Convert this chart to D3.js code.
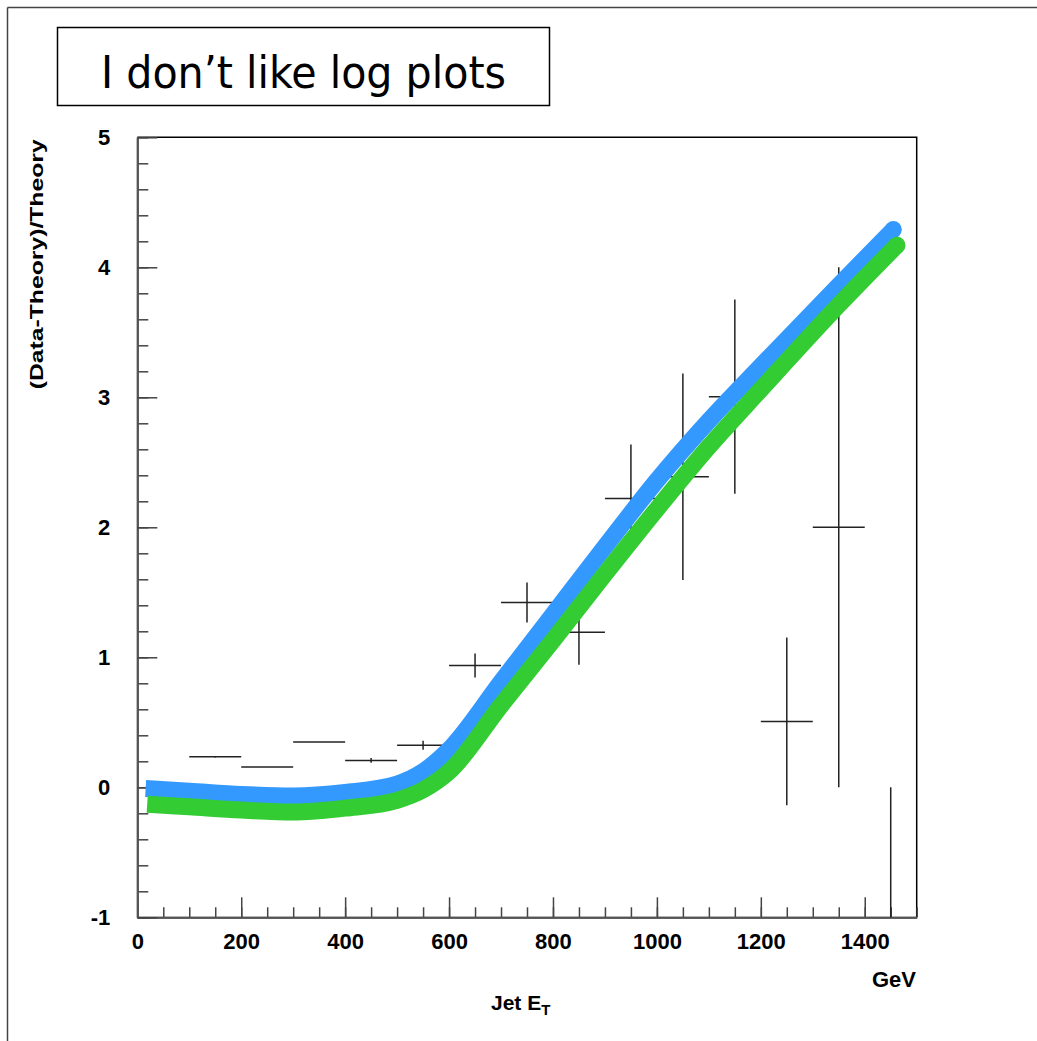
<html>
<head>
    <meta charset="utf-8">
    <script src="https://d3js.org/d3.v7.min.js"></script>
    <style>
        body { margin: 0; background: #fff; }
        svg text { font-family: "Liberation Sans", Arial, sans-serif; }
    </style>
</head>
<body>
    <svg id="chart" width="1037" height="1041"></svg>
    <script type="text/javascript">
        // measured points, one per 100 GeV bin
        const binCenter = [150, 250, 350, 450, 550, 650, 750, 850, 950, 1050, 1150, 1250, 1350, 1450];
        const ratio = [0.235, 0.156, 0.348, 0.207, 0.323, 0.937, 1.421, 1.193, 2.222, 2.389, 3.005, 0.507, 2.0, -2.0];
        const ratioErr = [0.005, 0.0, 0.0, 0.018, 0.035, 0.092, 0.154, 0.25, 0.415, 0.795, 0.747, 0.645, 2.0, 2.0];
        const binHalf = 50;

        // the two theory curves
        const blueEt = [16, 100, 200, 300, 400, 500, 550, 600, 700, 800, 900, 1000, 1100, 1200, 1350, 1455];
        const blueVal = [-0.01, -0.03, -0.055, -0.067, -0.04, 0.025, 0.12, 0.29, 0.81, 1.33, 1.85, 2.36, 2.82, 3.24, 3.86, 4.29];
        const greenEt = [19, 100, 200, 300, 400, 500, 550, 600, 700, 800, 900, 1000, 1100, 1200, 1350, 1462];
        const greenVal = [-0.13, -0.15, -0.175, -0.19, -0.16, -0.10, -0.02, 0.12, 0.63, 1.13, 1.64, 2.14, 2.62, 3.06, 3.71, 4.17];

        const xMajor = [0, 200, 400, 600, 800, 1000, 1200, 1400];
        const xMinor = d3.range(0, 1501, 50);
        const yMajor = [-1, 0, 1, 2, 3, 4, 5];
        const yMinor = d3.range(-1, 5.001, 0.2);

        const svg = d3.select('#chart');
        const x = d3.scaleLinear().domain([0, 1500]).range([137.3, 916.7]);
        const y = d3.scaleLinear().domain([-1, 5]).range([917.3, 137.3]);

        // page border (top and left only)
        svg.append('line').attr('x1', 7.5).attr('y1', 7.5).attr('x2', 1037).attr('y2', 7.5)
            .attr('stroke', '#444').attr('stroke-width', 1.5);
        svg.append('line').attr('x1', 7.5).attr('y1', 7.5).attr('x2', 7.5).attr('y2', 1041)
            .attr('stroke', '#444').attr('stroke-width', 1.5);

        // title box
        svg.append('rect').attr('x', 57.5).attr('y', 27.5).attr('width', 492).attr('height', 78)
            .attr('fill', '#fff').attr('stroke', '#000').attr('stroke-width', 1.5);
        svg.append('text').attr('x', 101).attr('y', 88)
            .style('font-family', '"DejaVu Sans", Verdana, sans-serif')
            .style('font-size', '44px')
            .attr('textLength', 405).attr('lengthAdjust', 'spacingAndGlyphs')
            .text('I don\u2019t like log plots');

        // frame top / right
        svg.append('path')
            .attr('d', `M${x(0)},${y(5)}H${x(1500)}V${y(-1)}`)
            .attr('fill', 'none').attr('stroke', '#000').attr('stroke-width', 1.5);

        // axes, ticks pointing inwards like ROOT
        const plain = d => String(d);
        const gx = svg.append('g').attr('transform', `translate(0,${y(-1)})`);
        gx.call(d3.axisBottom(x).tickValues(xMinor).tickSize(-10).tickSizeOuter(0).tickFormat(''));
        gx.append('g').call(d3.axisBottom(x).tickValues(xMajor).tickSize(-20).tickSizeOuter(0)
            .tickPadding(16).tickFormat(plain));

        const gy = svg.append('g').attr('transform', `translate(${x(0)},0)`);
        gy.call(d3.axisLeft(y).tickValues(yMinor).tickSize(-11).tickSizeOuter(0).tickFormat(''));
        gy.append('g').call(d3.axisLeft(y).tickValues(yMajor).tickSize(-20).tickSizeOuter(0)
            .tickPadding(27).tickFormat(plain));

        svg.selectAll('.domain').attr('stroke', '#555').attr('stroke-width', 2);
        svg.selectAll('.tick line').attr('stroke', '#444').attr('stroke-width', 1.5);
        svg.selectAll('.tick text')
            .style('font-size', '22px').style('font-weight', 'bold').attr('fill', '#000');

        // clip to the frame
        svg.append('clipPath').attr('id', 'frame')
            .append('rect').attr('x', x(0)).attr('y', y(5))
            .attr('width', x(1500) - x(0)).attr('height', y(-1) - y(5));
        const plot = svg.append('g').attr('clip-path', 'url(#frame)');

        // data points with error bars
        const pts = binCenter.map((c, i) => ({ c: c, v: ratio[i], e: ratioErr[i] }));
        const pg = plot.selectAll('g.pt').data(pts).enter().append('g').attr('class', 'pt');
        pg.append('line')
            .attr('x1', d => x(d.c - binHalf)).attr('x2', d => x(d.c + binHalf))
            .attr('y1', d => y(d.v)).attr('y2', d => y(d.v))
            .attr('stroke', '#222').attr('stroke-width', 1.5);
        pg.filter(d => d.e > 0).append('line')
            .attr('x1', d => x(d.c)).attr('x2', d => x(d.c))
            .attr('y1', d => y(d.v - d.e)).attr('y2', d => y(d.v + d.e))
            .attr('stroke', '#222').attr('stroke-width', 1.5);

        // theory curves
        const line = d3.line().x(d => x(d[0])).y(d => y(d[1])).curve(d3.curveMonotoneX);
        const curves = [
            { pts: d3.zip(blueEt, blueVal), color: '#3399ff' },
            { pts: d3.zip(greenEt, greenVal), color: '#33cc33' }
        ];
        curves.forEach(cv => {
            svg.append('path').datum(cv.pts).attr('d', line)
                .attr('fill', 'none').attr('stroke', cv.color)
                .attr('stroke-width', 17).attr('stroke-linejoin', 'round');
            const last = cv.pts[cv.pts.length - 1];
            svg.append('circle').attr('cx', x(last[0])).attr('cy', y(last[1])).attr('r', 8.5)
                .attr('fill', cv.color);
        });

        // axis titles
        svg.append('text').attr('x', 916).attr('y', 987).attr('text-anchor', 'end')
            .style('font-size', '22px').style('font-weight', 'bold').text('GeV');

        const xt = svg.append('text').attr('x', 491).attr('y', 1010)
            .style('font-size', '21px').style('font-weight', 'bold');
        xt.append('tspan').text('Jet E');
        xt.append('tspan').attr('dy', 5).style('font-size', '15px').text('T');

        svg.append('text')
            .attr('transform', `translate(43,${y(5) + 2}) rotate(-90)`)
            .attr('text-anchor', 'end')
            .style('font-size', '18px').style('font-weight', 'bold')
            .attr('textLength', 250).attr('lengthAdjust', 'spacingAndGlyphs')
            .text('(Data-Theory)/Theory');
    </script>
</body>
</html>
